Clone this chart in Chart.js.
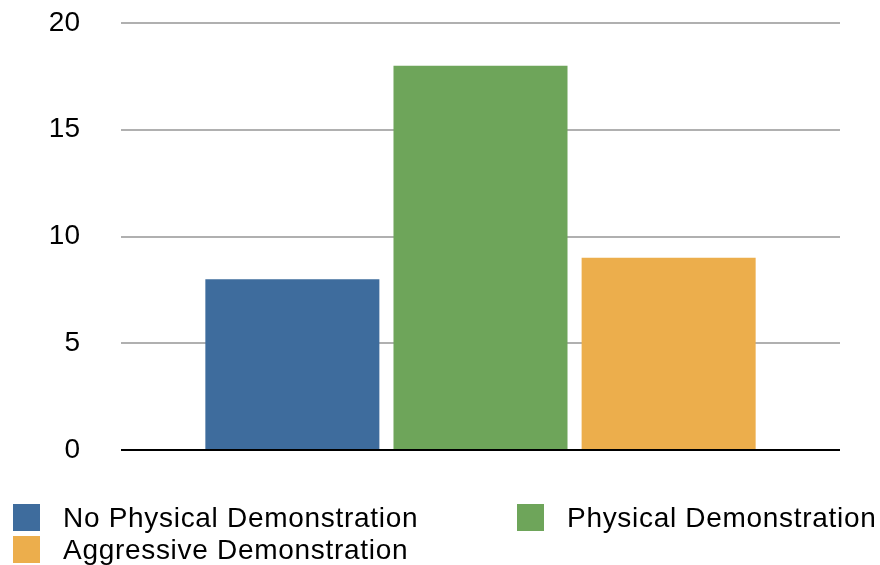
<!DOCTYPE html>
<html>
<head>
<meta charset="utf-8">
<script src="https://cdn.jsdelivr.net/npm/chart.js@4"></script>
<style>
  html, body { margin: 0; padding: 0; background: #fff; }
  #wrap { position: relative; width: 880px; height: 565px; }
  #c { position: absolute; left: 0; top: 0; }
  .lg { position: absolute; font-family: "Liberation Sans", Arial, sans-serif; font-size: 28px; letter-spacing: 0.7px; color: #000; white-space: nowrap; line-height: 27px; }
  .lg span.box { position: absolute; left: 0; top: 0; width: 27px; height: 27px; }
  .lg span.txt { position: absolute; left: 50px; top: 0; }
</style>
</head>
<body>
<div id="wrap">
  <canvas id="c" width="880" height="565"></canvas>
  <div id="legend"></div>
</div>
<script>
// Survey result: one group, three conditions
const categories = ['Demonstration'];
const seriesNames = ['No Physical Demonstration', 'Physical Demonstration', 'Aggressive Demonstration'];
const seriesValues = [[8], [18], [9]];
const seriesColors = ['#3e6c9d', '#6ea55a', '#ecae4c'];
const yTicks = [0, 5, 10, 15, 20];

const datasets = seriesNames.map((name, i) => ({
  label: name,
  data: seriesValues[i],
  backgroundColor: seriesColors[i],
  borderWidth: 0,
  categoryPercentage: 0.785,
  barPercentage: 0.925
}));

new Chart(document.getElementById('c'), {
  type: 'bar',
  data: { labels: categories, datasets },
  options: {
    responsive: false,
    animation: false,
    layout: { padding: { top: 23, right: 40, bottom: 115, left: 0 } },
    plugins: { legend: { display: false }, tooltip: { enabled: false } },
    scales: {
      x: { display: false },
      y: {
        min: 0, max: 20,
        afterBuildTicks: s => { s.ticks = yTicks.map(v => ({ value: v })); },
        afterFit: s => { s.width = 121; s.paddingTop = 0; s.paddingBottom = 0; },
        border: { display: false },
        grid: {
          drawTicks: false,
          color: ctx => ctx.tick && ctx.tick.value === 0 ? '#000' : '#b0b0b0',
          lineWidth: 2
        },
        ticks: {
          padding: 41,
          color: '#000',
          font: { family: '"Liberation Sans", Arial, sans-serif', size: 28 }
        }
      }
    }
  }
});

// Legend laid out in two columns under the plot
const legendPos = [[13, 504], [517, 504], [13, 536]];
const lg = document.getElementById('legend');
seriesNames.forEach((name, i) => {
  const d = document.createElement('div');
  d.className = 'lg';
  d.style.left = legendPos[i][0] + 'px';
  d.style.top = legendPos[i][1] + 'px';
  d.innerHTML = '<span class="box" style="background:' + seriesColors[i] + '"></span><span class="txt"></span>';
  d.querySelector('.txt').textContent = name;
  lg.appendChild(d);
});
</script>
</body>
</html>
